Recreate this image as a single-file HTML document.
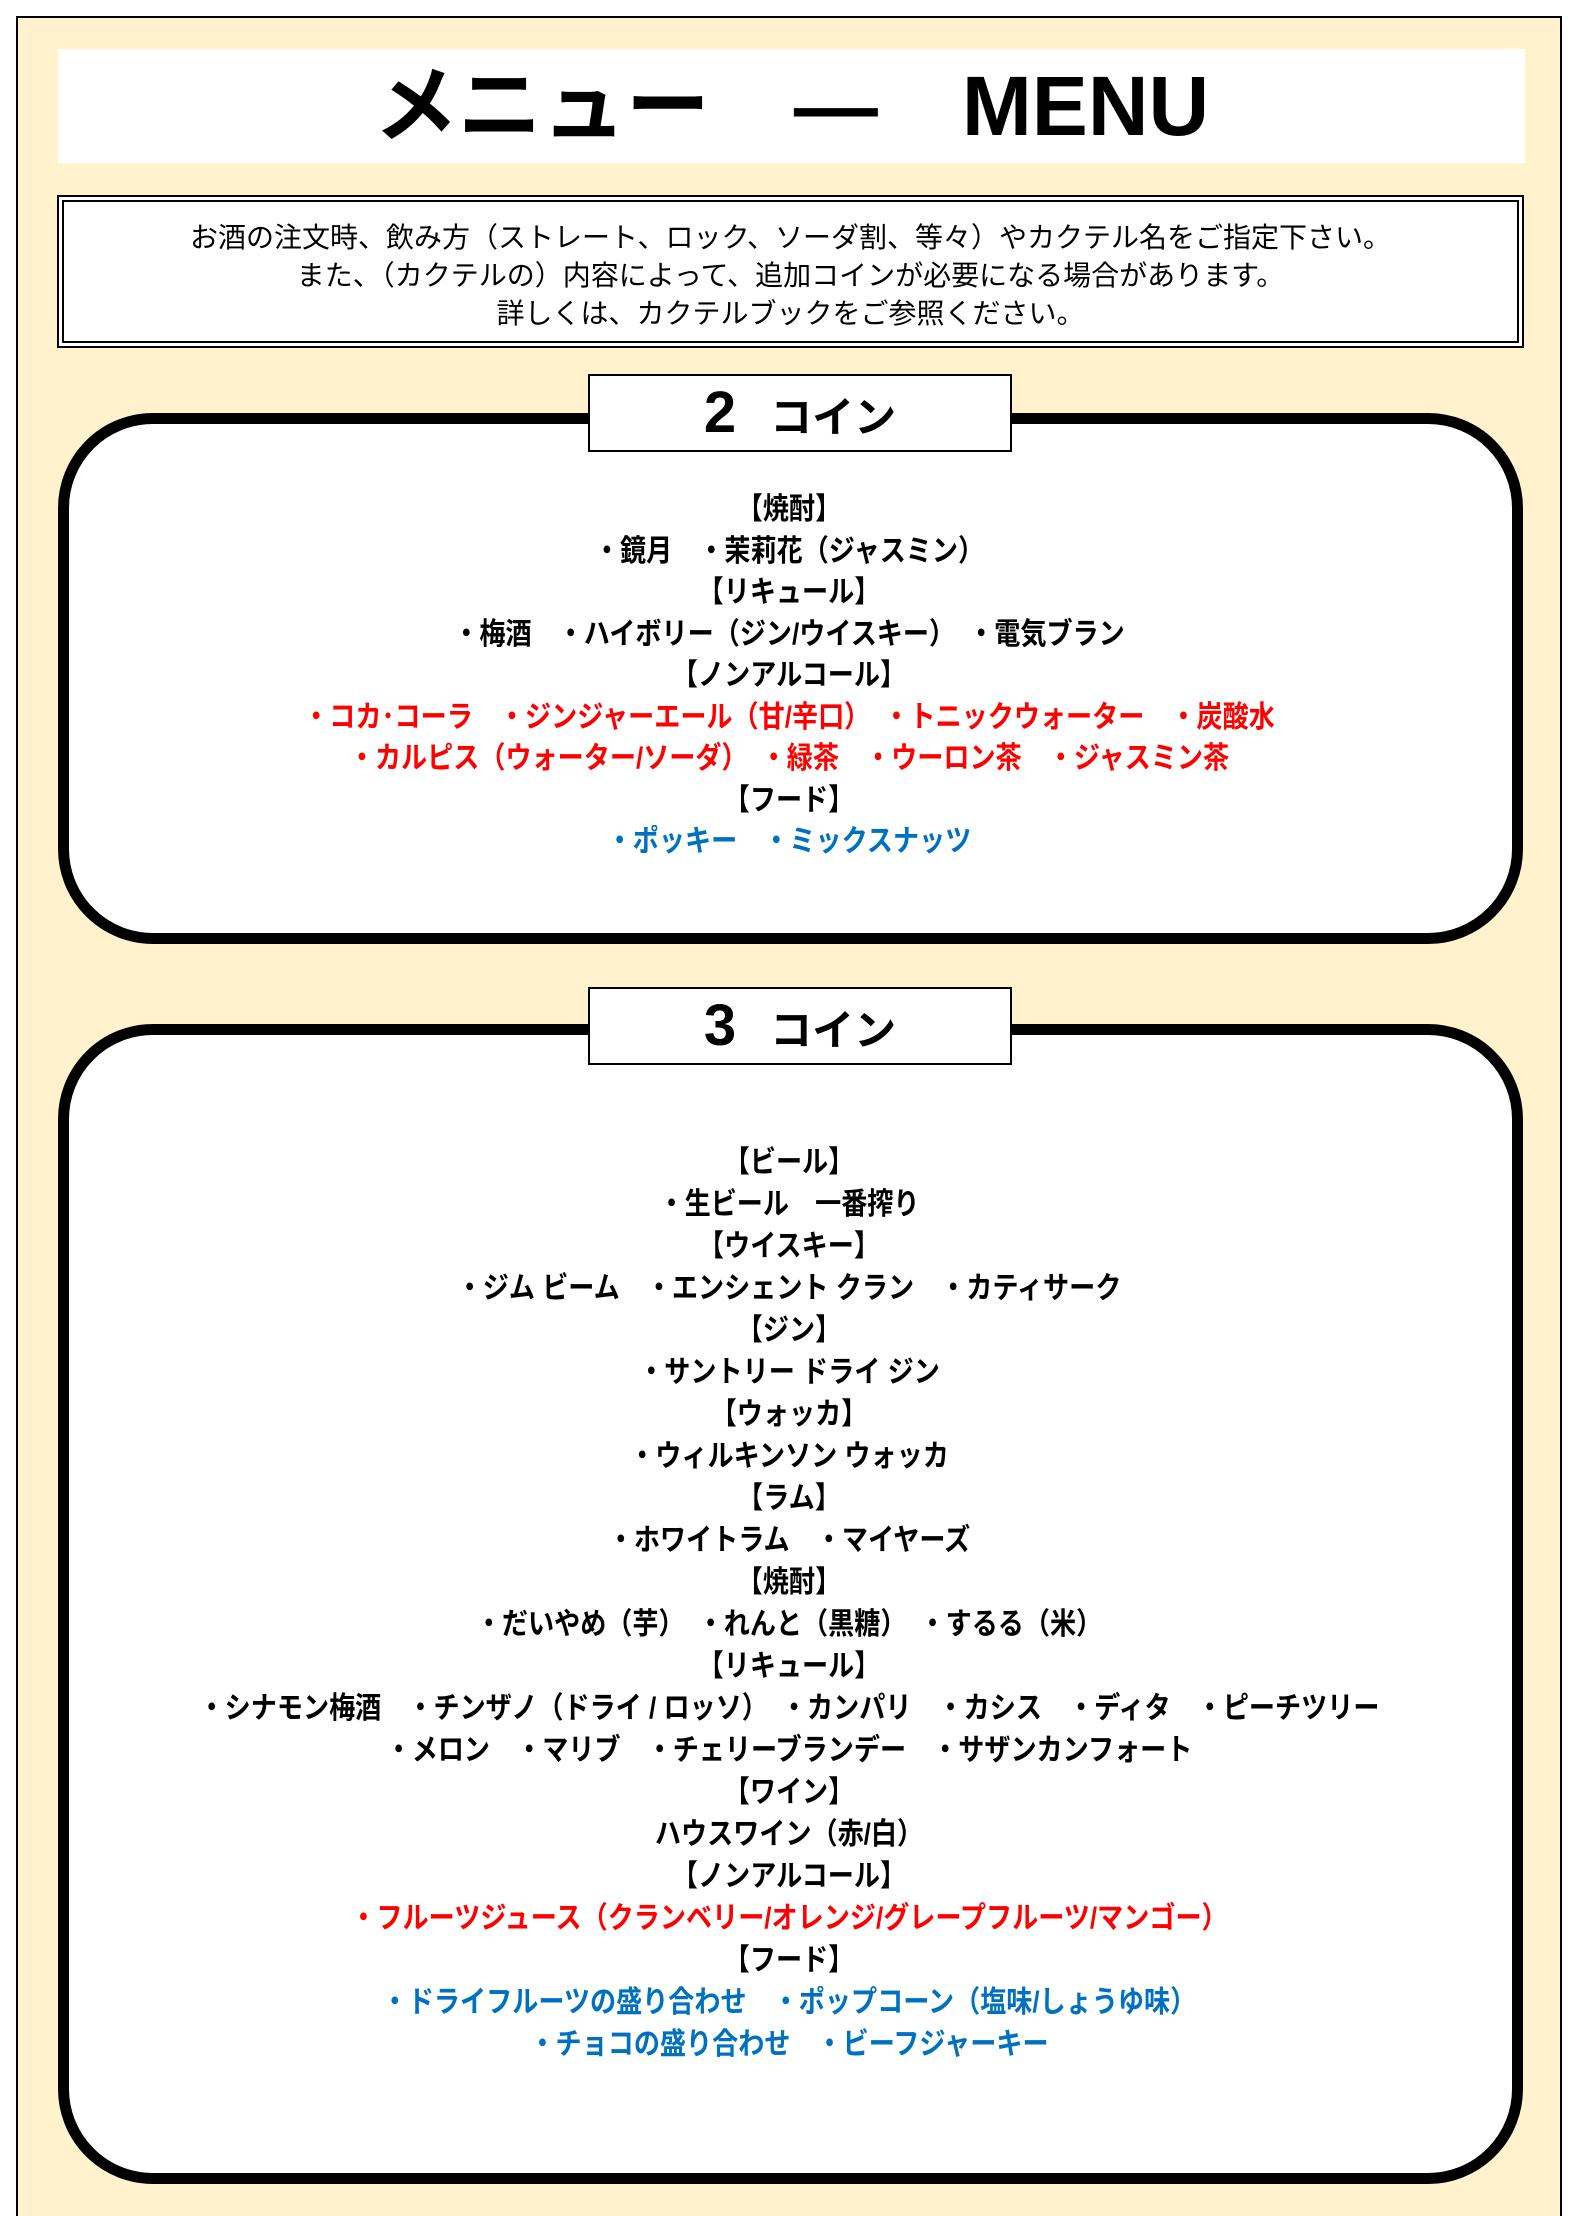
<!DOCTYPE html>
<html><head><meta charset="utf-8"><style>
*{margin:0;padding:0;box-sizing:border-box}
body{width:1578px;height:2201px;background:#fff;position:relative;overflow:hidden;font-family:"Liberation Sans","Noto Sans CJK JP",sans-serif}
.page{position:absolute;left:16px;top:16px;width:1546px;height:2200px;background:#fff2cc;border-left:2px solid #000;border-top:2px solid #000;border-right:2px solid #000}
.title{position:absolute;left:58px;top:49px;width:1467px;height:114px;background:#fff;text-align:center;font-weight:bold;font-size:84px;line-height:114px;color:#000}
.note{position:absolute;left:57px;top:195px;width:1467px;height:153px;background:#fff;border:7px double #000;text-align:center;font-size:28px;line-height:38px;padding-top:17px;color:#000}
.rr{position:absolute;left:58px;width:1465px;background:#fff;border:11px solid #000;border-radius:95px}
.coin{position:absolute;left:588px;width:424px;height:78px;background:#fff;border:2px solid #000;text-align:center;font-weight:bold;color:#000}
.coin b{font-size:58px;line-height:74px;margin-right:34px}
.coin span{font-size:42px;line-height:74px}
.lines{position:absolute;left:0;width:1578px;text-align:center;font-weight:bold;font-size:30px}
.lines div{height:41.5px;line-height:41.5px;transform:scaleX(0.87);white-space:nowrap}
.r{color:#ff0000}.b{color:#0070c0}
</style></head><body>
<div class="page"></div>
<div class="title">メニュー　―　MENU</div>
<div class="note">お酒の注文時、飲み方（ストレート、ロック、ソーダ割、等々）やカクテル名をご指定下さい。<br>また、（カクテルの）内容によって、追加コインが必要になる場合があります。<br>詳しくは、カクテルブックをご参照ください。</div>

<div class="rr" style="top:413px;height:531px"></div>
<div class="coin" style="top:374px"><b>2</b><span>コイン</span></div>
<div class="lines" style="top:489px">
<div>【焼酎】</div>
<div>・鏡月　・茉莉花（ジャスミン）</div>
<div>【リキュール】</div>
<div>・梅酒　・ハイボリー（ジン/ウイスキー）　・電気ブラン</div>
<div>【ノンアルコール】</div>
<div class="r">・コカ･コーラ　・ジンジャーエール（甘/辛口）　・トニックウォーター　・炭酸水</div>
<div class="r">・カルピス（ウォーター/ソーダ）　・緑茶　・ウーロン茶　・ジャスミン茶</div>
<div>【フード】</div>
<div class="b">・ポッキー　・ミックスナッツ</div>
</div>

<div class="rr" style="top:1024px;height:1160px"></div>
<div class="coin" style="top:987px"><b>3</b><span>コイン</span></div>
<div class="lines" style="top:1142px">
<div style="height:42px">【ビール】</div>
<div style="height:42px">・生ビール　一番搾り</div>
<div style="height:42px">【ウイスキー】</div>
<div style="height:42px">・ジム ビーム　・エンシェント クラン　・カティサーク</div>
<div style="height:42px">【ジン】</div>
<div style="height:42px">・サントリー ドライ ジン</div>
<div style="height:42px">【ウォッカ】</div>
<div style="height:42px">・ウィルキンソン ウォッカ</div>
<div style="height:42px">【ラム】</div>
<div style="height:42px">・ホワイトラム　・マイヤーズ</div>
<div style="height:42px">【焼酎】</div>
<div style="height:42px">・だいやめ（芋）　・れんと（黒糖）　・するる（米）</div>
<div style="height:42px">【リキュール】</div>
<div style="height:42px">・シナモン梅酒　・チンザノ（ドライ / ロッソ）　・カンパリ　・カシス　・ディタ　・ピーチツリー</div>
<div style="height:42px">・メロン　・マリブ　・チェリーブランデー　・サザンカンフォート</div>
<div style="height:42px">【ワイン】</div>
<div style="height:42px">ハウスワイン（赤/白）</div>
<div style="height:42px">【ノンアルコール】</div>
<div class="r" style="height:42px">・フルーツジュース（クランベリー/オレンジ/グレープフルーツ/マンゴー）</div>
<div style="height:42px">【フード】</div>
<div class="b" style="height:42px">・ドライフルーツの盛り合わせ　・ポップコーン（塩味/しょうゆ味）</div>
<div class="b" style="height:42px">・チョコの盛り合わせ　・ビーフジャーキー</div>
</div>
</body></html>
